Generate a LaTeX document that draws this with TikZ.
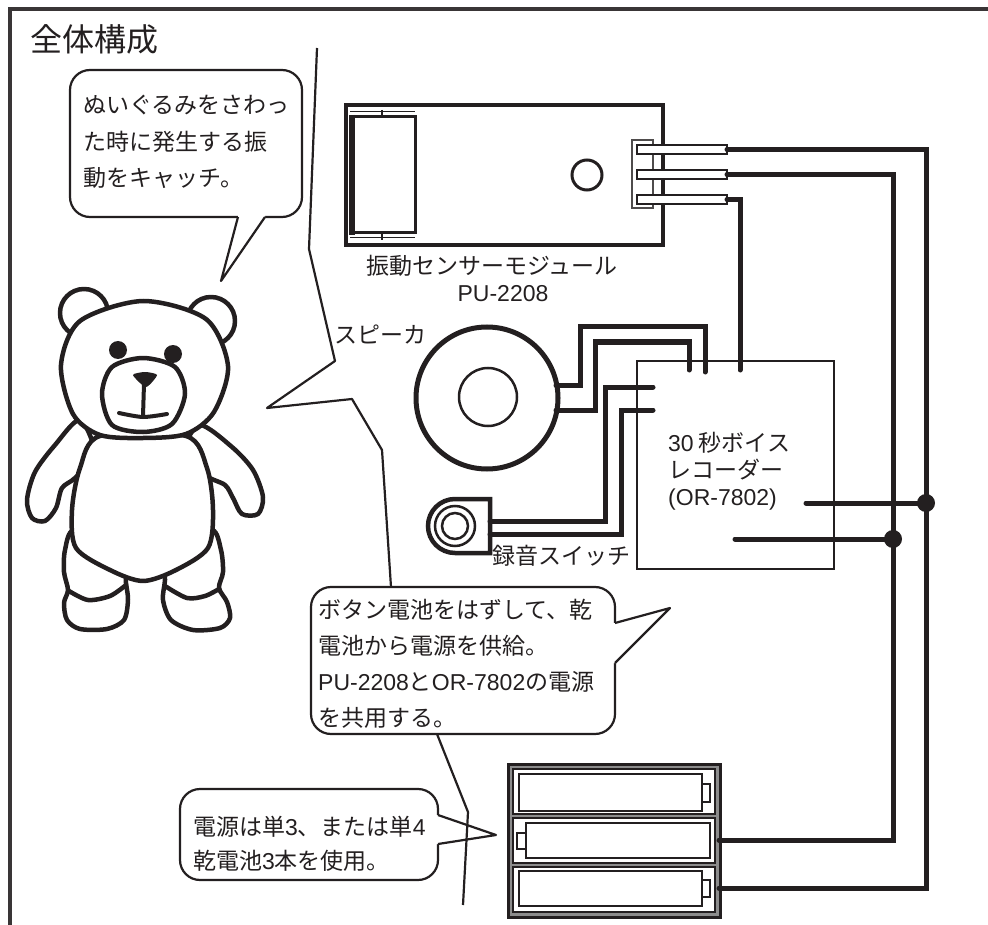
\documentclass[tikz,border=0pt]{standalone}
\usepackage{fontspec}
\setmainfont{Noto Sans CJK JP}
\newfontfamily\latfont{Liberation Sans}
\newcommand{\ltn}[1]{{\latfont #1}}
\definecolor{ink}{RGB}{35,31,32}
\begin{document}
\begin{tikzpicture}[x=1pt,y=-1pt,
  txt/.style={anchor=base west, inner sep=0pt, text=ink, font=\fontsize{23}{27}\selectfont},
  bubble/.style={draw=ink, line width=2.2, fill=white, rounded corners=20},
  thinline/.style={draw=ink, line width=2.2, line join=round},
  bearline/.style={draw=ink, line width=4.5, fill=white, line join=round},
  wire/.style={draw=ink, line width=5, line cap=round},
  part/.style={draw=ink, line width=4},
  dot/.style={fill=ink}]
\useasboundingbox (0,0) rectangle (988,925);

% frame
\draw[ink!90, line width=3.2] (10,925) -- (10,9) -- (988,9);
\node[txt, font=\fontsize{32}{36}\selectfont] (title) at (30,52) {全体構成};

% ---------- bear ----------
\draw[bearline] (84,313) circle[radius=24];
\draw[bearline] (211,321) circle[radius=24];
% arms
\draw[bearline] plot[smooth cycle] coordinates {(80,420) (55,445) (35,472) (27,500) (32,518) (45,521) (56,508) (62,488) (75,478) (95,455)};
\draw[bearline] plot[smooth cycle] coordinates {(200,425) (232,447) (253,470) (263,497) (258,514) (242,514) (233,498) (225,485) (205,475) (185,450)};
% legs
\draw[bearline] plot[smooth cycle] coordinates {(74,530) (65,550) (64,572) (68,590) (64,603) (67,620) (80,629) (107,629) (124,620) (128,600) (126,583) (124,560) (110,545)};
\draw[ink, line width=4.5, line cap=round] plot[smooth] coordinates {(69,591) (88,600) (110,596) (126,585)};
\draw[bearline] plot[smooth cycle] coordinates {(212,530) (221,550) (223,572) (219,588) (227,602) (230,618) (220,628) (193,630) (171,620) (163,600) (165,580) (165,560) (180,545)};
\draw[ink, line width=4.5, line cap=round] plot[smooth] coordinates {(165,586) (187,598) (205,596) (219,589)};
% body
\draw[bearline] plot[smooth cycle] coordinates {(100,436) (80,468) (72,510) (76,548) (110,570) (143,581) (176,570) (208,548) (213,510) (207,468) (186,436)};
% head
\draw[bearline] plot[smooth cycle] coordinates {(61,365) (80,321) (143,301) (206,319) (228,366) (214,412) (186,434) (143,438) (100,435) (73,414)};
% face
\draw[bearline] plot[smooth cycle] coordinates {(143,358) (175,367) (185,394) (172,424) (143,432) (112,425) (102,394) (112,367)};
\fill[ink] (118,350) circle[radius=9];
\fill[ink] (173,354) circle[radius=9];
\fill[ink] plot[smooth cycle, tension=0.4] coordinates {(133,375) (145,372) (157,375) (146,387)};
\draw[ink, line width=4] (144,384) -- (143,416);
\draw[ink, line width=4, line cap=round] plot[smooth] coordinates {(119,413) (143,417) (167,414)};

% ---------- speech bubbles ----------
% upper left
\draw[bubble] (70,70) rectangle (302,217);
\fill[white] (238,214) -- (265,214) -- (265,218) -- (221,281) -- (238,218) -- cycle;
\draw[thinline] (238,217) -- (221,281) -- (265,217);
\node[txt] (b1a) at (83,114) {ぬいぐるみをさわっ};
\node[txt] (b1b) at (83,151) {た時に発生する振};
\node[txt] (b1c) at (83,187) {動をキャッチ。};

% middle
\draw[bubble] (311,587) rectangle (615,734);
\fill[white] (611,623) -- (617,623) -- (670,608) -- (617,663) -- (611,663) -- cycle;
\draw[thinline] (615,623) -- (670,608) -- (615,663);
\node[txt] (b2a) at (318,618) {ボタン電池をはずして、乾};
\node[txt] (b2b) at (318,654) {電池から電源を供給。};
\node[txt] (b2c) at (318,690) {\ltn{PU-2208}と\ltn{OR-7802}の電源};
\node[txt] (b2d) at (318,726) {を共用する。};

% lower left
\draw[bubble] (180,789) rectangle (438,880);
\fill[white] (434,815) -- (440,815) -- (496,835) -- (440,844) -- (434,844) -- cycle;
\draw[thinline] (438,815) -- (496,835) -- (438,844);
\node[txt] (b3a) at (193,835) {電源は単\ltn{3}、または単\ltn{4}};
\node[txt] (b3b) at (193,869) {乾電池\ltn{3}本を使用。};

% pointer lines
\draw[thinline] (317,48) -- (309,249) -- (335,361) -- (267,408) -- (352,399) -- (382,450) -- (391,587);
\draw[thinline] (437,734) -- (468,812) -- (463,905);

% ---------- vibration sensor module ----------
\draw[part] (346,105) rectangle (663,245);
\draw[ink, line width=1] (350,112) -- (415,112) (350,238) -- (415,238);
\draw[ink, line width=2.5] (382,110) -- (382,117) (382,233) -- (382,240);
\draw[ink, line width=3] (350,117) rectangle (415,233);
\draw[ink, line width=6] (352,115) -- (352,235);
\draw[ink, line width=3] (587,175) circle[radius=15];
\draw[ink!80, line width=1.5, fill=white] (632,140) rectangle (653,208);
\foreach \y in {145,170,195}
  \draw[ink, line width=1.6, fill=white] (637,\y) rectangle (727,\y+9);
\coordinate (pinA) at (727,149.5);
\coordinate (pinB) at (727,174.5);
\coordinate (pinC) at (727,199.5);
\node[txt] (senslbl) at (366,275) {振動センサーモジュール};
\node[txt, anchor=base, font=\fontsize{23}{27}\latfont] (senspn) at (503,302) {PU-2208};

% ---------- speaker ----------
\draw[ink, line width=5] (487,398) circle[radius=71];
\draw[ink, line width=2.5] (488,397) circle[radius=29];
\node[txt] (spklbl) at (334,344) {スピーカ};
\coordinate (spkA) at (556,385);
\coordinate (spkB) at (556,410);

% ---------- record switch ----------
\draw[ink, line width=4.5, fill=white] (490,499) -- (455,499) arc[start angle=-90, end angle=-270, radius=27] -- (490,553) -- cycle;
\draw[ink, line width=2.5] (455,526) circle[radius=20];
\draw[ink, line width=2.5] (455,526) circle[radius=13];
\coordinate (swA) at (490,521);
\coordinate (swB) at (490,534);
\node[txt] (swlbl) at (492,564) {録音スイッチ};

% ---------- voice recorder ----------
\draw[ink, line width=2.5] (637,361) rectangle (834,569);
\node[txt] (rec1) at (668,451) {\ltn{30} 秒ボイス};
\node[txt] (rec2) at (668,478) {レコーダー};
\node[txt, font=\fontsize{23}{27}\latfont] (rec3) at (668,505) {(OR-7802)};

% ---------- battery holder ----------
\fill[black!45] (508,764) rectangle (720,917);
\draw[ink, line width=3] (508,764) rectangle (720,917);
\draw[ink, line width=2, fill=white] (513,769) rectangle (715,814);
\draw[ink, line width=2, fill=white] (513,818) rectangle (715,863);
\draw[ink, line width=2, fill=white] (513,867) rectangle (715,912);
\draw[ink, line width=2.5] (519,774) rectangle (702,811) (702,784) rectangle (710,802);
\draw[ink, line width=2.5] (526,823) rectangle (710,858) (517,833) rectangle (526,849);
\draw[ink, line width=2.5] (519,871) rectangle (702,906) (702,880) rectangle (710,897);
\coordinate (batP) at (719,840);
\coordinate (batN) at (719,888);

% ---------- wiring ----------
\draw[wire] (pinA) -- (926,149.5) -- (926,888) -- (batN);
\draw[wire] (pinB) -- (893,174.5) -- (893,840) -- (batP);
\draw[wire] (pinC) -- (740,199.5) -- (740,370);
\draw[wire] (spkA) -- (580,385) -- (580,327) -- (705,327) -- (705,372);
\draw[wire] (spkB) -- (595,410) -- (595,342) -- (689,342) -- (689,370);
\draw[wire] (swA) -- (605,521) -- (605,387) -- (653,387);
\draw[wire] (swB) -- (621,534) -- (621,410) -- (653,410);
\draw[wire] (806,503) -- (926,503);
\draw[wire] (735,539) -- (893,539);
\fill[dot] (926,503) circle[radius=9];
\fill[dot] (893,539) circle[radius=9];
\end{tikzpicture}
\end{document}
